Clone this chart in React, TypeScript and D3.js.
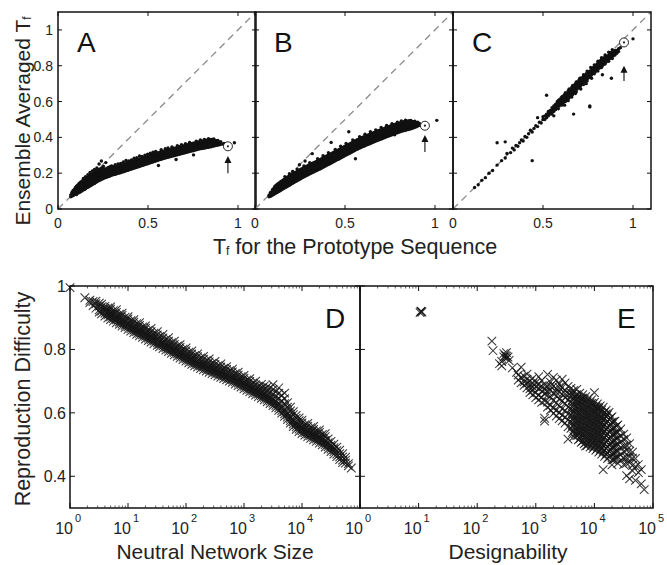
import React from 'react';
import * as d3 from 'd3';

// ---------- Data ----------
// Top panels: T_f of prototype sequence (x) vs ensemble averaged T_f (y); columns [x, ys]
const colsA: [number, number[]][] = [
  [0.071,[.068,.079]],[0.078,[.072,.086,.094]],[0.084,[.075,.081,.092,.103]],
  [0.091,[.079,.088,.097,.109,.084]],[0.097,[.083,.094,.101,.112,.121]],
  [0.103,[.081,.092,.099,.108,.118,.127]],[0.109,[.089,.097,.106,.115,.124,.133]],
  [0.116,[.091,.103,.111,.119,.128,.141,.099]],[0.122,[.094,.106,.113,.126,.134,.147]],
  [0.128,[.099,.109,.121,.129,.138,.151,.116]],[0.134,[.102,.114,.124,.131,.143,.156]],
  [0.141,[.107,.118,.127,.136,.148,.158,.171]],[0.147,[.109,.121,.133,.141,.152,.163]],
  [0.153,[.113,.126,.135,.146,.154,.168,.181]],[0.159,[.118,.129,.139,.151,.159,.172]],
  [0.166,[.121,.134,.144,.153,.165,.176,.192]],[0.172,[.126,.137,.149,.158,.168,.183]],
  [0.178,[.129,.142,.151,.163,.172,.186,.204]],[0.184,[.133,.146,.156,.166,.177,.191]],
  [0.191,[.137,.149,.161,.169,.181,.195,.212]],[0.197,[.141,.153,.163,.174,.184,.199]],
  [0.203,[.143,.157,.166,.178,.188,.203,.221]],[0.209,[.148,.161,.171,.181,.192,.207]],
  [0.216,[.152,.163,.174,.186,.195,.211,.229]],[0.222,[.156,.168,.177,.189,.198,.216]],
  [0.228,[.159,.171,.182,.192,.203,.219,.251]],[0.234,[.162,.174,.185,.196,.206,.223]],
  [0.241,[.166,.178,.188,.199,.209,.226,.268]],[0.247,[.168,.181,.192,.203,.213,.231]],
  [0.253,[.172,.183,.194,.205,.217,.238]],[0.259,[.174,.187,.198,.208,.221]],
  [0.266,[.176,.189,.201,.211,.224,.259]],[0.272,[.179,.192,.203,.214,.227]],
  [0.278,[.181,.195,.206,.217,.231]],[0.284,[.183,.197,.209,.219,.234]],
  [0.291,[.186,.199,.211,.222,.236]],[0.297,[.188,.202,.214,.225,.241]],
  [0.304,[.191,.204,.216,.228,.238]],[0.311,[.193,.207,.219,.231]],
  [0.318,[.194,.208,.221,.233,.247]],[0.326,[.197,.211,.223,.235]],
  [0.333,[.199,.213,.226,.238,.251]],[0.341,[.201,.216,.228,.241]],
  [0.348,[.203,.218,.231,.243,.255]],[0.356,[.206,.221,.233,.246]],
  [0.363,[.208,.223,.236,.248,.263]],[0.371,[.211,.226,.238,.251]],
  [0.378,[.213,.228,.241,.253,.271]],[0.386,[.216,.231,.243,.256]],
  [0.393,[.218,.233,.246,.259,.268]],[0.401,[.221,.236,.248,.261]],
  [0.408,[.223,.238,.251,.264,.274]],[0.416,[.226,.241,.253,.266]],
  [0.423,[.228,.243,.256,.269,.283]],[0.431,[.231,.246,.259,.271]],
  [0.438,[.233,.248,.261,.274,.287]],[0.446,[.236,.251,.264,.276]],
  [0.453,[.238,.253,.266,.279,.296]],[0.461,[.241,.256,.269,.281]],
  [0.468,[.243,.258,.271,.284,.293]],[0.476,[.246,.261,.274,.286]],
  [0.483,[.248,.263,.276,.289,.301]],[0.491,[.251,.266,.279,.291]],
  [0.498,[.253,.268,.281,.294,.306]],[0.506,[.256,.271,.284,.296]],
  [0.513,[.258,.273,.286,.299,.311]],[0.521,[.261,.276,.289,.301]],
  [0.528,[.263,.278,.291,.304,.317]],[0.536,[.266,.281,.294,.306]],
  [0.543,[.268,.283,.296,.309,.322]],[0.551,[.271,.286,.299,.311]],
  [0.558,[.273,.288,.301,.314,.243]],[0.566,[.276,.291,.303,.316]],
  [0.573,[.278,.293,.306,.318,.331]],[0.581,[.281,.296,.308,.321]],
  [0.588,[.283,.298,.311,.323]],[0.596,[.285,.299,.313,.326,.337]],
  [0.603,[.287,.302,.315,.328]],[0.611,[.289,.304,.317,.329,.341]],
  [0.618,[.291,.306,.319,.331]],[0.626,[.293,.308,.321,.334]],
  [0.633,[.295,.311,.323,.336,.347]],[0.641,[.297,.312,.325,.338]],
  [0.648,[.299,.314,.327,.339]],[0.656,[.301,.316,.329,.341,.276]],
  [0.663,[.303,.318,.331,.343,.353]],[0.671,[.305,.321,.333,.346]],
  [0.678,[.307,.322,.335,.348]],[0.686,[.309,.324,.337,.349,.359]],
  [0.693,[.311,.326,.339,.351]],[0.701,[.313,.328,.341,.353]],
  [0.708,[.315,.331,.343,.356,.364]],[0.716,[.317,.332,.345,.358]],
  [0.723,[.319,.334,.347,.359]],[0.731,[.321,.336,.349,.361,.371]],
  [0.738,[.323,.338,.351,.363]],[0.746,[.325,.341,.353,.366]],
  [0.753,[.327,.342,.355,.367,.302]],[0.761,[.329,.344,.357,.369]],
  [0.768,[.331,.346,.359,.371,.379]],[0.776,[.333,.348,.361,.373]],
  [0.783,[.335,.349,.362,.375]],[0.791,[.337,.351,.364,.377,.386]],
  [0.798,[.338,.353,.366,.378]],[0.806,[.339,.354,.367,.379]],
  [0.813,[.341,.356,.369,.381,.389]],[0.821,[.342,.357,.371,.383]],
  [0.828,[.344,.359,.372,.384]],[0.836,[.345,.361,.373,.386,.393]],
  [0.843,[.347,.362,.375,.387]],[0.851,[.348,.363,.376,.388]],
  [0.858,[.351,.365,.377,.389]],[0.866,[.352,.366,.379,.391]],
  [0.873,[.354,.368,.381]],[0.881,[.356,.369,.382]],[0.888,[.357,.371,.383]],
  [0.896,[.359,.373]],[0.904,[.361,.376]],[0.913,[.363]],[0.922,[.366]],
  [0.944,[.35]],[0.98,[.37]],
];

const colsB: [number, number[]][] = [
  [0.078,[.068,.077]],[0.085,[.071,.082,.091]],[0.091,[.074,.086,.095,.081]],
  [0.097,[.078,.089,.099,.108]],[0.103,[.081,.093,.102,.113,.087]],
  [0.109,[.085,.097,.106,.117,.124]],[0.116,[.089,.101,.111,.121,.095,.131]],
  [0.122,[.092,.104,.115,.126,.136]],[0.128,[.096,.108,.119,.131,.141,.113]],
  [0.134,[.099,.112,.123,.134,.146]],[0.141,[.103,.116,.127,.139,.151,.121]],
  [0.147,[.107,.119,.131,.142,.155]],[0.153,[.111,.124,.135,.147,.158,.129]],
  [0.159,[.114,.127,.139,.151,.163]],[0.166,[.118,.131,.143,.155,.168,.181]],
  [0.172,[.122,.135,.147,.159,.172]],[0.178,[.126,.138,.151,.163,.176,.144]],
  [0.184,[.129,.142,.154,.167,.181]],[0.191,[.133,.146,.158,.171,.184,.197]],
  [0.197,[.137,.149,.162,.174,.188]],[0.203,[.141,.153,.166,.178,.191,.159]],
  [0.209,[.144,.157,.169,.182,.195,.209]],[0.216,[.148,.161,.173,.186,.198]],
  [0.222,[.152,.164,.177,.189,.202,.171]],[0.228,[.155,.168,.181,.193,.206]],
  [0.234,[.159,.171,.184,.196,.209,.223]],[0.241,[.162,.175,.188,.201,.213]],
  [0.247,[.166,.179,.191,.204,.216,.247]],[0.253,[.169,.182,.195,.208,.221]],
  [0.259,[.173,.186,.198,.211,.224,.189]],[0.266,[.177,.189,.202,.214,.228]],
  [0.272,[.18,.193,.205,.218,.231,.241]],[0.278,[.183,.196,.209,.222,.234,.268]],
  [0.284,[.187,.199,.212,.225,.238]],[0.291,[.19,.203,.216,.228,.241,.206]],
  [0.297,[.193,.206,.219,.232,.244]],[0.304,[.197,.21,.222,.235,.248,.259]],
  [0.311,[.2,.213,.226,.239,.251]],[0.318,[.204,.216,.229,.242,.255,.309]],
  [0.326,[.207,.22,.233,.246,.258]],[0.333,[.211,.223,.236,.249,.262,.226]],
  [0.341,[.214,.227,.24,.253,.266]],[0.348,[.218,.231,.243,.256,.269,.281]],
  [0.356,[.222,.235,.247,.26,.273]],[0.363,[.225,.238,.251,.264,.277,.243]],
  [0.371,[.229,.242,.255,.268,.281]],[0.378,[.233,.246,.259,.272,.285,.297]],
  [0.386,[.237,.25,.263,.276,.289]],[0.393,[.241,.254,.267,.28,.293,.259]],
  [0.401,[.245,.258,.271,.284,.297]],[0.408,[.249,.262,.275,.288,.301,.314]],
  [0.416,[.253,.266,.279,.292,.305]],[0.423,[.257,.27,.283,.296,.309,.372]],
  [0.431,[.261,.274,.287,.30,.313,.277]],[0.438,[.265,.278,.291,.304,.317]],
  [0.446,[.269,.282,.295,.308,.321,.333]],[0.453,[.273,.286,.299,.312,.325]],
  [0.461,[.277,.29,.303,.316,.329,.293]],[0.468,[.281,.294,.307,.32,.333]],
  [0.476,[.285,.298,.311,.324,.337,.351]],[0.483,[.289,.302,.315,.328,.341]],
  [0.491,[.293,.306,.319,.332,.345,.309]],[0.498,[.297,.31,.323,.336,.349]],
  [0.506,[.301,.314,.327,.34,.353,.366]],[0.513,[.305,.318,.331,.344,.357]],
  [0.521,[.309,.322,.335,.348,.361,.431]],[0.528,[.313,.326,.339,.352,.365,.327]],
  [0.536,[.317,.33,.343,.356,.369]],[0.543,[.321,.334,.347,.36,.373,.386]],
  [0.551,[.325,.338,.351,.364,.377]],[0.558,[.329,.342,.355,.368,.381,.281]],
  [0.566,[.333,.346,.359,.372,.385,.347]],[0.573,[.336,.349,.362,.375,.388]],
  [0.581,[.34,.353,.366,.379,.392,.404]],[0.588,[.343,.356,.369,.382,.395]],
  [0.596,[.347,.36,.373,.386,.399,.362]],[0.603,[.35,.363,.376,.389,.402]],
  [0.611,[.353,.366,.379,.392,.405,.418]],[0.618,[.357,.37,.383,.396,.409]],
  [0.626,[.36,.373,.386,.399,.412,.374]],[0.633,[.363,.376,.389,.402,.415]],
  [0.641,[.366,.379,.392,.405,.418,.431]],[0.648,[.37,.383,.396,.409,.422]],
  [0.656,[.373,.386,.399,.412,.425,.388]],[0.663,[.376,.389,.402,.415,.428]],
  [0.671,[.379,.392,.405,.418,.431,.442]],[0.678,[.382,.395,.408,.421,.434]],
  [0.686,[.385,.398,.411,.424,.437,.40]],[0.693,[.388,.401,.414,.427,.44]],
  [0.701,[.391,.404,.417,.43,.443,.455]],[0.708,[.394,.407,.42,.433,.446]],
  [0.716,[.397,.41,.423,.436,.449,.412]],[0.723,[.40,.413,.426,.439,.452]],
  [0.731,[.403,.416,.429,.442,.455,.466]],[0.738,[.406,.419,.432,.445,.458]],
  [0.746,[.409,.422,.435,.448,.461,.425]],[0.753,[.412,.425,.438,.451,.464]],
  [0.761,[.415,.428,.441,.454,.467,.476]],[0.768,[.418,.431,.444,.457,.469]],
  [0.776,[.421,.434,.447,.46,.472,.415]],[0.783,[.424,.437,.45,.463,.474]],
  [0.791,[.426,.439,.452,.465,.477,.484]],[0.798,[.429,.442,.455,.467,.479]],
  [0.806,[.431,.444,.457,.469,.481]],[0.813,[.434,.447,.459,.471,.483,.491]],
  [0.821,[.436,.449,.461,.473,.485]],[0.828,[.438,.451,.463,.475,.487]],
  [0.836,[.44,.453,.465,.477,.489,.496]],[0.843,[.442,.455,.467,.479,.49]],
  [0.851,[.444,.457,.469,.481,.492]],[0.858,[.446,.459,.471,.483,.493]],
  [0.866,[.448,.461,.473,.485,.494]],[0.873,[.451,.463,.475,.487]],
  [0.881,[.453,.465,.477,.488]],[0.888,[.456,.468,.479,.49]],
  [0.896,[.459,.471,.482]],[0.904,[.463,.474,.485]],[0.913,[.467,.478]],
  [0.922,[.471]],[0.944,[.465]],[1.01,[.495]],
];

const colsC: [number, number[]][] = [
  [0.12,[0.12]],[0.14,[0.135]],[0.16,[0.16]],[0.18,[0.175]],[0.20,[0.20]],[0.22,[0.215]],
  [0.245,[0.245,0.37]],[0.27,[0.27]],[0.29,[0.285,0.375]],[0.30,[0.31]],[0.32,[0.315]],
  [0.33,[0.34]],[0.34,[0.33]],[0.35,[0.355]],[0.36,[0.35]],[0.37,[0.37]],[0.38,[0.385]],
  [0.39,[0.38]],[0.40,[0.405]],[0.41,[0.40]],[0.42,[0.42]],[0.43,[0.44]],[0.44,[0.43,0.27]],
  [0.45,[0.45]],[0.46,[0.465]],[0.47,[0.46,0.51]],[0.48,[0.485]],[0.49,[0.48]],
  [0.50,[0.50,0.515]],[0.51,[0.50,0.52]],[0.52,[0.51,0.53,0.52,0.635]],
  [0.53,[0.52,0.535,0.545]],[0.54,[0.53,0.545,0.55]],[0.55,[0.54,0.55,0.565,0.53]],
  [0.56,[0.55,0.56,0.575,0.545,0.52]],[0.57,[0.555,0.57,0.585,0.56]],
  [0.58,[0.565,0.58,0.595,0.57,0.60]],[0.585,[0.56,0.59,0.605]],
  [0.59,[0.575,0.59,0.60,0.58,0.61]],[0.60,[0.585,0.60,0.61,0.595,0.62]],
  [0.605,[0.58,0.615,0.625]],[0.61,[0.59,0.605,0.62,0.60,0.63]],
  [0.62,[0.60,0.615,0.63,0.61,0.64,0.58]],[0.625,[0.60,0.635,0.65]],
  [0.63,[0.61,0.625,0.64,0.62,0.645]],[0.64,[0.62,0.635,0.65,0.63,0.66,0.605]],
  [0.645,[0.62,0.655,0.67]],[0.65,[0.63,0.645,0.66,0.64,0.665]],
  [0.66,[0.64,0.655,0.67,0.65,0.68,0.625]],[0.665,[0.64,0.675,0.69]],
  [0.67,[0.65,0.665,0.68,0.66,0.69,0.53]],[0.68,[0.66,0.675,0.69,0.67,0.70,0.645]],
  [0.685,[0.655,0.695,0.71]],[0.69,[0.67,0.685,0.70,0.68,0.71]],
  [0.70,[0.68,0.695,0.71,0.69,0.72]],[0.705,[0.675,0.715,0.73]],
  [0.71,[0.69,0.705,0.72,0.70,0.73,0.67]],[0.72,[0.70,0.715,0.73,0.71,0.735]],
  [0.725,[0.695,0.735,0.75]],[0.73,[0.71,0.72,0.735,0.725,0.745]],
  [0.74,[0.72,0.73,0.745,0.735,0.755,0.70]],[0.745,[0.715,0.75,0.77]],
  [0.75,[0.73,0.74,0.755,0.745,0.765]],[0.76,[0.74,0.75,0.765,0.755,0.77,0.57,0.575]],
  [0.765,[0.735,0.77,0.79]],[0.77,[0.75,0.76,0.775,0.765,0.78,0.73]],
  [0.78,[0.76,0.77,0.78,0.775,0.79]],[0.785,[0.755,0.785,0.805]],
  [0.79,[0.765,0.775,0.79,0.785,0.80]],[0.80,[0.775,0.785,0.795,0.80,0.81]],
  [0.805,[0.77,0.80,0.825]],[0.81,[0.785,0.795,0.805,0.81,0.82]],
  [0.82,[0.79,0.80,0.815,0.82,0.83]],[0.825,[0.79,0.825,0.845]],
  [0.83,[0.80,0.81,0.82,0.83,0.84,0.75]],[0.84,[0.81,0.82,0.83,0.835,0.845]],
  [0.845,[0.81,0.84,0.86]],[0.85,[0.82,0.83,0.84,0.845,0.855]],
  [0.86,[0.83,0.84,0.85,0.855]],[0.865,[0.825,0.855,0.875]],
  [0.87,[0.84,0.85,0.86,0.865]],[0.88,[0.845,0.855,0.865,0.875,0.73]],
  [0.885,[0.84,0.87,0.89]],[0.89,[0.855,0.865,0.875]],
  [0.90,[0.86,0.875,0.885]],[0.91,[0.87,0.885]],[0.92,[0.88,0.895]],[0.93,[0.90]],
  [0.94,[0.93]],[1.00,[0.95]],
];

// Highlighted prototype (circle) and arrow positions, per panel A, B, C
const markTf = [0.944, 0.944, 0.95];
const markAvg = [0.35, 0.465, 0.93];
const arrowTip = [0.296, 0.413, 0.80];
const arrowTail = [0.20, 0.318, 0.715];
const topLetters = ['A', 'B', 'C'];
const tfTicksX = [0, 0.5, 1];
const tfTicksY = [0, 0.2, 0.4, 0.6, 0.8, 1];

// Bottom-left: neutral network size (x) vs reproduction difficulty (y)
const colsD: [number, number[]][] = [
  [1.0,[.995]],[1.8,[.963]],[2.2,[.955,.948]],[2.5,[.951,.938]],[2.8,[.944,.93,.952]],
  [3.2,[.937,.925,.946,.918]],[3.5,[.934,.921,.943,.912]],[4.0,[.929,.914,.936,.905,.921]],
  [4.5,[.922,.909,.931,.899,.915]],[5.0,[.916,.903,.927,.894,.91,.934]],
  [5.6,[.911,.897,.922,.889,.904]],[6.3,[.906,.893,.917,.884,.899,.925]],
  [7.1,[.901,.886,.911,.879,.894]],[7.9,[.895,.881,.907,.874,.889,.914]],
  [8.9,[.889,.876,.902,.869,.884]],[10,[.884,.871,.896,.863,.878,.903]],
  [11.2,[.879,.866,.891,.858,.873]],[12.6,[.874,.861,.886,.853,.868,.894]],
  [14.1,[.869,.856,.881,.848,.863]],[15.8,[.864,.851,.876,.843,.858,.884]],
  [17.8,[.859,.846,.871,.838,.853]],[20,[.854,.841,.866,.833,.848,.874]],
  [22.4,[.849,.836,.861,.828,.843]],[25,[.844,.831,.856,.823,.838,.866]],
  [28,[.839,.826,.851,.818,.833]],[32,[.834,.821,.846,.813,.828,.856]],
  [35,[.829,.816,.841,.808,.823]],[40,[.824,.811,.836,.803,.818,.847]],
  [45,[.819,.806,.831,.798,.813]],[50,[.814,.801,.826,.793,.808,.837]],
  [56,[.809,.796,.821,.788,.803]],[63,[.804,.791,.816,.783,.798,.826]],
  [71,[.799,.786,.811,.778,.793]],[79,[.794,.781,.806,.773,.788,.815]],
  [89,[.789,.776,.801,.768,.783]],[100,[.784,.771,.796,.763,.778,.805]],
  [112,[.779,.766,.791,.758,.773]],[126,[.774,.761,.786,.753,.768,.795]],
  [141,[.769,.756,.781,.748,.763]],[158,[.765,.752,.777,.744,.759,.786]],
  [178,[.761,.748,.773,.74,.755]],[200,[.757,.744,.769,.736,.751,.778]],
  [224,[.753,.74,.765,.732,.747]],[251,[.749,.736,.761,.728,.743,.77]],
  [282,[.745,.732,.757,.724,.739]],[316,[.741,.728,.753,.72,.735,.762]],
  [355,[.737,.724,.749,.716,.731]],[398,[.733,.72,.745,.712,.727,.754]],
  [447,[.729,.716,.741,.708,.723]],[501,[.725,.712,.737,.704,.719,.746]],
  [562,[.721,.708,.733,.70,.715]],[631,[.717,.704,.729,.696,.711,.738]],
  [708,[.712,.699,.724,.691,.706]],[794,[.707,.694,.719,.686,.701,.728]],
  [891,[.702,.689,.714,.681,.696]],[1000,[.697,.684,.709,.676,.691,.718]],
  [1122,[.692,.679,.704,.671,.686]],[1259,[.687,.674,.699,.666,.681,.708]],
  [1413,[.682,.669,.694,.661,.676]],[1585,[.677,.664,.689,.656,.671,.70]],
  [1778,[.672,.659,.684,.651,.666]],[1995,[.667,.654,.679,.646,.661,.69]],
  [2239,[.662,.649,.674,.641,.656,.685]],[2512,[.656,.643,.669,.635,.65,.682]],
  [2818,[.65,.637,.664,.629,.644,.678]],[3162,[.644,.631,.658,.623,.638,.674,.689]],
  [3548,[.637,.624,.652,.616,.631,.667]],[3981,[.629,.616,.646,.608,.623,.662,.679]],
  [4467,[.62,.607,.638,.599,.614,.655]],[5012,[.61,.597,.629,.589,.604,.645,.662]],
  [5623,[.60,.587,.618,.579,.594,.632]],[6310,[.589,.576,.606,.568,.583,.618]],
  [7079,[.578,.565,.594,.557,.572,.604]],[7943,[.569,.556,.583,.548,.563,.592]],
  [8913,[.562,.549,.575,.541,.556,.584]],[10000,[.556,.543,.568,.535,.55,.577]],
  [11220,[.551,.538,.563,.53,.545]],[12589,[.546,.533,.558,.525,.54,.567]],
  [14125,[.541,.528,.553,.52,.535]],[15849,[.536,.523,.548,.515,.53,.557]],
  [17783,[.531,.518,.543,.51,.525]],[19953,[.526,.513,.538,.505,.52,.546]],
  [22387,[.52,.507,.532,.499,.514]],[25119,[.513,.50,.525,.492,.507,.534]],
  [28184,[.506,.493,.518,.485,.50]],[31623,[.498,.486,.51,.478,.492]],
  [35481,[.49,.478,.501,.47,.484]],[39811,[.481,.47,.492,.462]],
  [44668,[.471,.461,.482,.453]],[50119,[.461,.451,.471,.443]],
  [56234,[.451,.442,.46]],[63096,[.44,.433]],[70795,[.426]],
];

// Bottom-right: designability (x) vs reproduction difficulty (y)
const colsE: [number, number[]][] = [
  [10.6,[.916]],[11,[.921,.919]],[11.4,[.918]],[178,[.826]],[186,[.796]],[240,[.755]],
  [262,[.748,.762]],[285,[.776,.787]],[300,[.781]],[316,[.772,.79,.779]],[335,[.776]],
  [350,[.765]],[398,[.742]],[470,[.728]],[501,[.719,.703]],[562,[.744,.712,.695]],
  [631,[.716,.698,.687]],[708,[.722,.693,.679,.706]],[794,[.701,.676,.664,.688]],
  [891,[.693,.671,.657,.709,.682]],[1000,[.682,.664,.648,.695]],
  [1122,[.714,.677,.655,.641,.69]],[1259,[.702,.668,.649,.633,.684]],
  [1413,[.687,.661,.638,.583,.574,.674]],[1585,[.721,.683,.656,.634,.618,.668]],
  [1778,[.697,.672,.651,.624,.609,.685]],[1995,[.712,.684,.661,.639,.614,.598]],
  [2239,[.703,.676,.653,.631,.608,.59,.665]],[2512,[.691,.667,.644,.622,.601,.582,.68]],
  [2818,[.706,.679,.659,.638,.613,.593,.575]],[3162,[.694,.671,.648,.629,.607,.586,.568,.66]],
  [3548,[.683,.662,.641,.618,.597,.578,.556,.517]],[3981,[.677,.653,.634,.612,.593,.571,.551,.664]],
  [4217,[.66,.64,.618,.598,.578,.558,.538]],
  [4467,[.671,.649,.627,.606,.586,.564,.543,.525]],
  [4732,[.655,.636,.615,.594,.574,.553,.534]],
  [5012,[.674,.643,.622,.603,.581,.562,.541,.528,.657]],
  [5309,[.65,.631,.611,.59,.57,.549,.53,.515]],
  [5623,[.662,.638,.619,.597,.576,.556,.537,.518]],
  [5957,[.646,.626,.606,.585,.565,.545,.525,.507]],
  [6310,[.657,.634,.613,.592,.573,.551,.532,.511,.646]],
  [6683,[.642,.621,.601,.581,.56,.541,.521,.502]],
  [7079,[.651,.628,.607,.588,.567,.546,.527,.506,.495]],
  [7499,[.637,.616,.596,.576,.556,.536,.516,.497]],
  [7943,[.646,.624,.602,.583,.562,.542,.522,.503]],
  [8414,[.632,.611,.591,.571,.551,.531,.511,.492]],
  [8913,[.641,.618,.598,.577,.558,.537,.518,.498,.63]],
  [9441,[.627,.606,.586,.566,.546,.526,.506,.487]],
  [10000,[.664,.633,.613,.594,.572,.553,.533,.512,.493]],
  [10593,[.621,.601,.58,.56,.54,.52,.50,.482]],
  [11220,[.628,.609,.588,.568,.547,.528,.507,.487,.617]],
  [11885,[.615,.595,.575,.555,.535,.515,.495,.476]],
  [12589,[.622,.603,.583,.563,.543,.522,.503,.482]],
  [13335,[.609,.589,.569,.549,.529,.509,.489,.47]],
  [14125,[.618,.597,.578,.557,.538,.517,.498,.478,.421]],
  [14962,[.602,.582,.562,.542,.522,.502,.482,.463]],
  [15849,[.608,.589,.569,.548,.529,.508,.488,.469,.597]],
  [16788,[.594,.574,.554,.534,.514,.494,.474,.456]],
  [17783,[.601,.579,.559,.541,.519,.499,.479,.461]],
  [18836,[.584,.564,.544,.524,.504,.484,.465]],
  [19953,[.588,.571,.549,.531,.509,.492,.471,.452,.436]],
  [21135,[.572,.552,.532,.512,.492,.472,.452]],
  [22387,[.574,.554,.536,.514,.496,.476,.457]],
  [23714,[.558,.538,.518,.498,.478,.458]],
  [25119,[.562,.539,.521,.501,.481,.462,.441]],
  [28184,[.549,.528,.509,.491,.468,.451]],
  [31623,[.533,.516,.494,.477,.456,.437]],
  [35481,[.521,.498,.482,.459,.441,.402]],
  [39811,[.503,.479,.461,.443,.392]],
  [44668,[.476,.457,.434,.417]],[50119,[.456,.431,.387]],
  [56234,[.437,.412]],[63096,[.421,.376]],[70795,[.358]],
];

const bottomLetters = ['D', 'E'];
const rdTicksY = [0.4, 0.6, 0.8, 1];
const logDecades = [0, 1, 2, 3, 4, 5];
const decadeLabelsD = [0, 1, 2, 3, 4];
const decadeLabelsE = [0, 1, 2, 3, 4, 5];

// ---------- Layout ----------
const FONT = 'Liberation Sans, Arial, Helvetica, sans-serif';
const topLefts = [58, 255, 453];
const TOP_W = 198;
const TOP_Y0 = 12;
const TOP_Y1 = 209;
const botLefts = [70, 360];
const botRights = [360, 653];
const BOT_Y0 = 286;
const BOT_Y1 = 508;

const flat = (cols: [number, number[]][]) =>
  cols.flatMap(([x, ys]) => ys.map((y) => [x, y] as [number, number]));

function TopPanel({ i, cols }: { i: number; cols: [number, number[]][] }) {
  const x0 = topLefts[i];
  const x = d3.scaleLinear().domain([0, 1.1]).range([x0, x0 + TOP_W]);
  const y = d3.scaleLinear().domain([0, 1.1]).range([TOP_Y1, TOP_Y0]);
  const pts = flat(cols);
  const tipY = y(arrowTip[i]);
  const ax = x(markTf[i]);
  return (
    <g>
      <line x1={x(0)} y1={y(0)} x2={x(1.1)} y2={y(1.1)} stroke="#8a8a8a" strokeWidth={1.3} strokeDasharray="7,5" />
      {pts.map(([px, py], k) => (
        <circle key={k} cx={x(px)} cy={y(py)} r={1.7} fill="#111" />
      ))}
      <circle cx={x(markTf[i])} cy={y(markAvg[i])} r={4.5} fill="#fff" stroke="#222" strokeWidth={1} />
      <circle cx={x(markTf[i])} cy={y(markAvg[i])} r={1.1} fill="#222" />
      <line x1={ax} x2={ax} y1={y(arrowTail[i])} y2={tipY + 4} stroke="#222" strokeWidth={1.2} />
      <path d={`M${ax},${tipY} L${ax - 3.5},${tipY + 7} L${ax + 3.5},${tipY + 7} Z`} fill="#111" />
      <rect x={x0} y={TOP_Y0} width={TOP_W} height={TOP_Y1 - TOP_Y0} fill="none" stroke="#111" strokeWidth={1.5} />
      {tfTicksX.map((t) => (
        <g key={'x' + t}>
          <line x1={x(t)} x2={x(t)} y1={TOP_Y1} y2={TOP_Y1 - 4} stroke="#111" />
          <line x1={x(t)} x2={x(t)} y1={TOP_Y0} y2={TOP_Y0 + 4} stroke="#111" />
          <text x={x(t)} y={228} textAnchor="middle" fontSize={14} fontFamily={FONT} fill="#222">
            {String(t)}
          </text>
        </g>
      ))}
      {tfTicksY.map((t) => (
        <g key={'y' + t}>
          <line x1={x0} x2={x0 + 4} y1={y(t)} y2={y(t)} stroke="#111" />
          <line x1={x0 + TOP_W} x2={x0 + TOP_W - 4} y1={y(t)} y2={y(t)} stroke="#111" />
          {i === 0 && (
            <text x={x0 - 5} y={y(t)} dy="0.36em" textAnchor="end" fontSize={14} fontFamily={FONT} fill="#222">
              {String(t)}
            </text>
          )}
        </g>
      ))}
      <text x={x0 + 19} y={52} fontSize={28} fontFamily={FONT} fill="#111">
        {topLetters[i]}
      </text>
    </g>
  );
}

function BottomPanel({ i, cols, labels }: { i: number; cols: [number, number[]][]; labels: number[] }) {
  const x0 = botLefts[i];
  const x1 = botRights[i];
  const x = d3.scaleLog().domain([1, 1e5]).range([x0, x1]);
  const y = d3.scaleLinear().domain([0.3, 1]).range([BOT_Y1, BOT_Y0]);
  const pts = flat(cols);
  const s = 4.3;
  const minors: number[] = [];
  logDecades.slice(0, 5).forEach((d) => {
    for (let m = 2; m <= 9; m++) minors.push(m * Math.pow(10, d));
  });
  return (
    <g>
      {pts.map(([px, py], k) => {
        const cx = x(px);
        const cy = y(py);
        return (
          <path
            key={k}
            d={`M${cx - s},${cy - s}L${cx + s},${cy + s}M${cx - s},${cy + s}L${cx + s},${cy - s}`}
            stroke="#151515"
            strokeOpacity={0.85}
            strokeWidth={1.05}
            fill="none"
          />
        );
      })}
      <rect x={x0} y={BOT_Y0} width={x1 - x0} height={BOT_Y1 - BOT_Y0} fill="none" stroke="#111" strokeWidth={1.5} />
      {logDecades.map((d) => {
        const xv = x(Math.pow(10, d));
        return (
          <g key={'d' + d}>
            <line x1={xv} x2={xv} y1={BOT_Y1} y2={BOT_Y1 - 5} stroke="#111" />
            <line x1={xv} x2={xv} y1={BOT_Y0} y2={BOT_Y0 + 5} stroke="#111" />
          </g>
        );
      })}
      {minors.map((m) => (
        <g key={'m' + m}>
          <line x1={x(m)} x2={x(m)} y1={BOT_Y1} y2={BOT_Y1 - 2.5} stroke="#333" strokeWidth={0.8} />
          <line x1={x(m)} x2={x(m)} y1={BOT_Y0} y2={BOT_Y0 + 2.5} stroke="#333" strokeWidth={0.8} />
        </g>
      ))}
      {labels.map((d) => {
        const xv = x(Math.pow(10, d));
        return (
          <g key={'l' + d}>
            <text x={xv + 3} y={534} textAnchor="end" fontSize={16} fontFamily={FONT} fill="#222">
              10
            </text>
            <text x={xv + 5} y={522} textAnchor="start" fontSize={11} fontFamily={FONT} fill="#222">
              {d}
            </text>
          </g>
        );
      })}
      {rdTicksY.map((t) => (
        <g key={'y' + t}>
          <line x1={x0} x2={x0 + 5} y1={y(t)} y2={y(t)} stroke="#111" />
          <line x1={x1} x2={x1 - 5} y1={y(t)} y2={y(t)} stroke="#111" />
          {i === 0 && (
            <text x={x0 - 4} y={y(t)} dy="0.36em" textAnchor="end" fontSize={16} fontFamily={FONT} fill="#222">
              {String(t)}
            </text>
          )}
        </g>
      ))}
      <text x={i === 0 ? 325 : 617} y={328} fontSize={28} fontFamily={FONT} fill="#111">
        {bottomLetters[i]}
      </text>
    </g>
  );
}

export default function App() {
  return (
    <svg
      width={667}
      height={565}
      viewBox="0 0 667 565"
      style={{ position: 'absolute', left: 0, top: 0, background: '#fff' }}
    >
      <rect x={0} y={0} width={667} height={565} fill="#fff" />
      <TopPanel i={0} cols={colsA} />
      <TopPanel i={1} cols={colsB} />
      <TopPanel i={2} cols={colsC} />
      <BottomPanel i={0} cols={colsD} labels={decadeLabelsD} />
      <BottomPanel i={1} cols={colsE} labels={decadeLabelsE} />

      <text transform="translate(30,121) rotate(-90)" textAnchor="middle" fontSize={21} fontFamily={FONT} fill="#222">
        Ensemble Averaged T
        <tspan fontSize={12} dy={1}>f</tspan>
      </text>
      <text x={355} y={254} textAnchor="middle" fontSize={21.5} fontFamily={FONT} fill="#222">
        T<tspan fontSize={12} dy={1}>f</tspan>
        <tspan dy={-1}> for the Prototype Sequence</tspan>
      </text>
      <text transform="translate(30,399) rotate(-90)" textAnchor="middle" fontSize={21.5} fontFamily={FONT} fill="#222">
        Reproduction Difficulty
      </text>
      <text x={215} y={559} textAnchor="middle" fontSize={21} fontFamily={FONT} fill="#222">
        Neutral Network Size
      </text>
      <text x={508} y={559} textAnchor="middle" fontSize={21} fontFamily={FONT} fill="#222">
        Designability
      </text>
    </svg>
  );
}
